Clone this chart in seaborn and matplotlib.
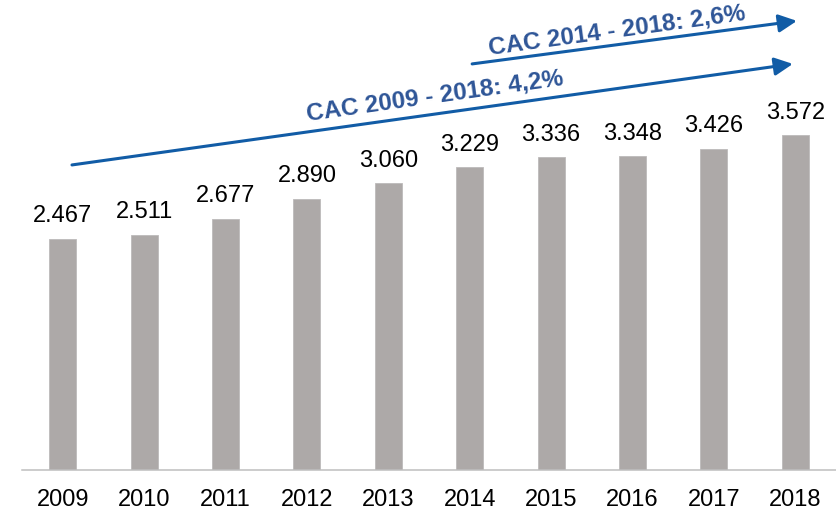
import matplotlib
matplotlib.use("Agg")
import matplotlib.pyplot as plt
import seaborn as sns
import numpy as np
import pandas as pd

years = ["2009", "2010", "2011", "2012", "2013", "2014", "2015", "2016", "2017", "2018"]
values = [2467, 2511, 2677, 2890, 3060, 3229, 3336, 3348, 3426, 3572]
value_labels = ["2.467", "2.511", "2.677", "2.890", "3.060", "3.229", "3.336", "3.348", "3.426", "3.572"]
cagr_texts = ["CAC 2009 - 2018: 4,2%", "CAC 2014 - 2018: 2,6%"]

sns.set_theme(style="white")
plt.rcParams['font.family'] = ['Liberation Sans', 'DejaVu Sans']

df = pd.DataFrame({"year": years, "value": values})

fig = plt.figure(figsize=(8.37, 5.11), dpi=100)
ax = fig.add_axes([22/837, 41/511, 814/837, 470/511])

sns.barplot(data=df, x="year", y="value", color="#ADA9A8", width=0.33,
            saturation=1, edgecolor="#BDBABA", linewidth=0.6, ax=ax)

ax.set_ylim(0, 5015)
ax.set_xlim(-0.5, len(years) - 0.5)

for i, (v, lab) in enumerate(zip(values, value_labels)):
    ax.annotate(lab, (i, v), xytext=(0, 12), textcoords="offset points",
                ha="center", va="baseline", fontsize=17, color="black")

# Spines and ticks
for s in ["top", "right", "left"]:
    ax.spines[s].set_visible(False)
ax.spines["bottom"].set_color("#BFBFBF")
ax.spines["bottom"].set_linewidth(1.1)
ax.set_yticks([])
ax.set_xlabel("")
ax.set_ylabel("")
ax.set_xticks(range(len(years)))
ax.set_xticklabels(years, fontsize=17, color="black")
ax.tick_params(axis="x", which="major", length=0, pad=14)
ax.set_xticks(np.arange(-0.5, len(years), 1.0), minor=True)
ax.tick_params(axis="x", which="minor", length=5, width=1.1, color="#BFBFBF", direction="out")

arrow_color = "#115CA6"
text_color = "#2E5597"
aprops = dict(arrowstyle="-|>,head_length=0.55,head_width=0.27", mutation_scale=20,
              color=arrow_color, lw=2.2, shrinkA=0, shrinkB=0)

# Lower arrow (2009-2018)
ax.annotate("", xy=(8.97, 4333), xytext=(0.114, 3255), xycoords="data", arrowprops=aprops)
# Upper arrow (2014-2018)
ax.annotate("", xy=(9.02, 4792), xytext=(5.03, 4333), xycoords="data", arrowprops=aprops)

ax.text(4.574, 3991, cagr_texts[0], rotation=8, rotation_mode="anchor",
        ha="center", va="center", fontsize=17.5, fontweight="bold", color=text_color)
ax.text(6.81, 4685, cagr_texts[1], rotation=7.8, rotation_mode="anchor",
        ha="center", va="center", fontsize=17.5, fontweight="bold", color=text_color)

fig.savefig("out.png", dpi=100)
